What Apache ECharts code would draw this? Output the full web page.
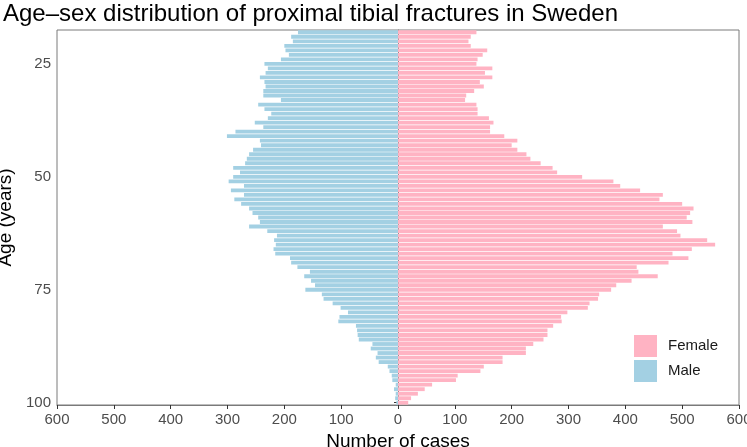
<!DOCTYPE html>
<html>
<head>
<meta charset="utf-8">
<script src="https://cdn.jsdelivr.net/npm/echarts@6/dist/echarts.min.js"></script>
<style>
  html, body { margin: 0; padding: 0; background: #fff; }
  #chart { width: 747px; height: 447px; }
</style>
</head>
<body>
<div id="chart"></div>
<script>
// ages 18..100
const ages = []
for (let a = 18; a <= 100; a++) ages.push(String(a))

const male = [
  176, 188, 185, 200, 198, 192, 206, 235, 229, 233,
  243, 235, 233, 237, 237, 206, 246, 235, 223, 229,
  252, 237, 286, 301, 243, 241, 255, 262, 266, 269,
  290, 278, 290, 298, 271, 294, 271, 288, 276, 262,
  256, 246, 243, 262, 230, 213, 218, 215, 219, 216,
  190, 188, 177, 155, 165, 153, 146, 163, 134, 131,
  115, 101, 88, 103, 105, 74, 72, 71, 69, 45,
  48, 36, 39, 34, 18, 15, 11, 10, 4, 7,
  4, 5, 3
]

const female = [
  138, 128, 124, 128, 157, 149, 140, 138, 166, 153,
  166, 144, 151, 134, 120, 118, 138, 140, 140, 160,
  168, 162, 162, 187, 210, 200, 210, 226, 233, 251,
  272, 280, 324, 379, 391, 426, 466, 460, 500, 520,
  514, 508, 518, 466, 491, 497, 544, 558, 517, 483,
  511, 476, 420, 423, 457, 411, 384, 375, 354, 352,
  337, 334, 298, 287, 288, 273, 263, 263, 256, 238,
  225, 225, 184, 184, 151, 145, 105, 102, 60, 47,
  35, 23, 18
]

const ageTicks = ['25', '50', '75', '100']

const font = "'Liberation Sans', Arial, sans-serif"
const grey = '#7a7a7a'

let mychart = echarts.init(document.getElementById('chart'))
let option = {
  animation: false,
  textStyle: { fontFamily: font },
  title: {
    text: 'Age\u2013sex distribution of proximal tibial fractures in Sweden',
    left: -2,
    top: -3,
    textStyle: { fontSize: 24, fontWeight: 'normal', color: '#000', fontFamily: font }
  },
  legend: {
    orient: 'vertical',
    left: 629,
    top: 330,
    itemWidth: 23,
    itemHeight: 22,
    itemGap: 3,
    icon: 'rect',
    data: ['Female', 'Male'],
    textStyle: { fontSize: 15, color: '#1a1a1a', fontFamily: font, padding: [0, 0, 0, 6] }
  },
  grid: {
    left: 57,
    top: 30,
    width: 682,
    height: 375,
    show: true,
    borderColor: grey,
    borderWidth: 1,
    containLabel: false,
    outerBoundsMode: 'none'
  },
  xAxis: {
    type: 'value',
    min: -600,
    max: 600,
    interval: 100,
    name: 'Number of cases',
    nameLocation: 'middle',
    nameGap: 26,
    nameTextStyle: { fontSize: 19, color: '#000', fontFamily: font },
    splitLine: { show: false },
    axisLine: { show: true, lineStyle: { color: grey } },
    axisTick: { show: true, length: 4, lineStyle: { color: '#333' } },
    axisLabel: {
      fontSize: 15,
      color: '#4d4d4d',
      margin: 7,
      formatter: v => Math.abs(v)
    }
  },
  yAxis: {
    type: 'category',
    inverse: true,
    data: ages,
    name: 'Age (years)',
    nameLocation: 'middle',
    nameGap: 38,
    nameTextStyle: { fontSize: 19, color: '#000', fontFamily: font },
    axisLine: { show: true, lineStyle: { color: grey } },
    axisTick: {
      show: true,
      length: 4,
      alignWithLabel: true,
      interval: (i, v) => ageTicks.includes(v),
      lineStyle: { color: '#333' }
    },
    axisLabel: {
      fontSize: 15,
      color: '#4d4d4d',
      margin: 6,
      interval: (i, v) => ageTicks.includes(v)
    },
    splitLine: { show: false }
  },
  series: [
    {
      name: 'Female',
      type: 'bar',
      stack: 'total',
      data: female,
      barCategoryGap: '15%',
      itemStyle: { color: '#ffb3c3' }
    },
    {
      name: 'Male',
      type: 'bar',
      stack: 'total',
      data: male.map(v => -v),
      barCategoryGap: '15%',
      itemStyle: { color: '#a3d0e3' }
    }
  ]
}
mychart.setOption(option)
</script>
</body>
</html>
